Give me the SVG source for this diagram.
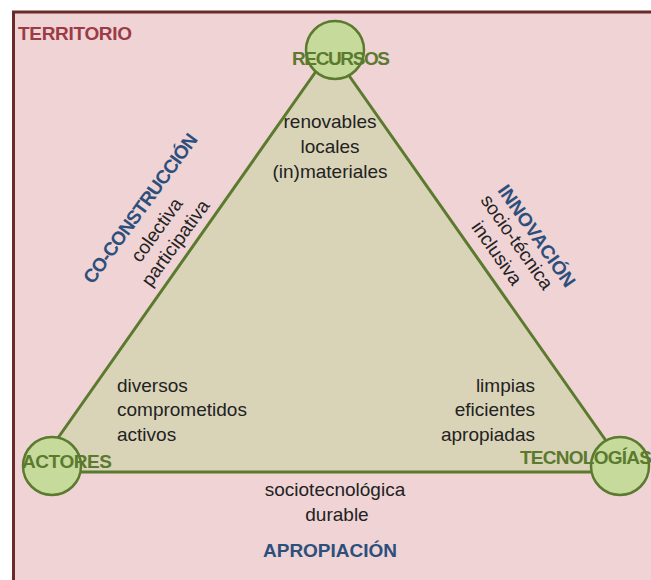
<svg xmlns="http://www.w3.org/2000/svg" width="651" height="580" viewBox="0 0 651 580">
<style>
.body{font-family:"Liberation Sans",Arial,sans-serif;font-size:19px;fill:#222}
.node{font-family:"Liberation Sans",Arial,sans-serif;font-size:19px;font-weight:bold;fill:#5b7a2e}
.axis{font-family:"Liberation Sans",Arial,sans-serif;font-size:19px;font-weight:bold;fill:#2d4f7c}
.circ{fill:#c6da9c;stroke:#5b7a2e;stroke-width:2.5}
.mid{text-anchor:middle}
.end{text-anchor:end}
</style>
<rect width="651" height="580" fill="#ffffff"/>
<g id="territorio">
<rect x="13.5" y="12" width="700" height="700" fill="#efd3d5" stroke="#6b2a2a" stroke-width="3"/>
<text x="18" y="40" font-family="Liberation Sans, Arial, sans-serif" font-size="19" font-weight="bold" fill="#9c3b45" textLength="114">TERRITORIO</text>
</g>
<g id="connectors">
<polygon points="34,472 331,50 628,472" fill="#d9d4b8" stroke="#5b7a2e" stroke-width="3" stroke-linejoin="round"/>
</g>
<g id="edge-labels">
<g id="coconstruccion">
<text class="axis mid" transform="translate(140,208) rotate(-54)" y="7" textLength="180">CO-CONSTRUCCIÓN</text>
<text class="body mid" transform="translate(157,230) rotate(-54)" y="6">colectiva</text>
<text class="body mid" transform="translate(177,244) rotate(-54)" y="4.5">participativa</text>
</g>
<g id="innovacion">
<text class="axis mid" transform="translate(538,235) rotate(55)" y="8">INNOVACIÓN</text>
<text class="body mid" transform="translate(517,242) rotate(55)" y="6.5">socio-técnica</text>
<text class="body mid" transform="translate(497,253) rotate(55)" y="6.5">inclusiva</text>
</g>
<g id="apropiacion">
<text class="body mid" x="335" y="496">sociotecnológica</text>
<text class="body mid" x="337" y="521">durable</text>
<text class="axis mid" x="330" y="557" textLength="134">APROPIACIÓN</text>
</g>
</g>
<g id="recursos">
<circle class="circ" cx="335" cy="50" r="29"/>
<text class="node" x="292" y="65" textLength="98">RECURSOS</text>
<text class="body mid" x="330" y="128">renovables</text>
<text class="body mid" x="330" y="153">locales</text>
<text class="body mid" x="330" y="178">(in)materiales</text>
</g>
<g id="actores">
<circle class="circ" cx="52" cy="466" r="29"/>
<text class="node" x="22" y="468" textLength="90">ACTORES</text>
<text class="body" x="117" y="392">diversos</text>
<text class="body" x="117" y="416">comprometidos</text>
<text class="body" x="117" y="441">activos</text>
</g>
<g id="tecnologias">
<circle class="circ" cx="620" cy="466" r="29"/>
<text class="node" x="520" y="464" textLength="132">TECNOLOGÍAS</text>
<text class="body end" x="535" y="392">limpias</text>
<text class="body end" x="535" y="416">eficientes</text>
<text class="body end" x="535" y="441">apropiadas</text>
</g>
</svg>
